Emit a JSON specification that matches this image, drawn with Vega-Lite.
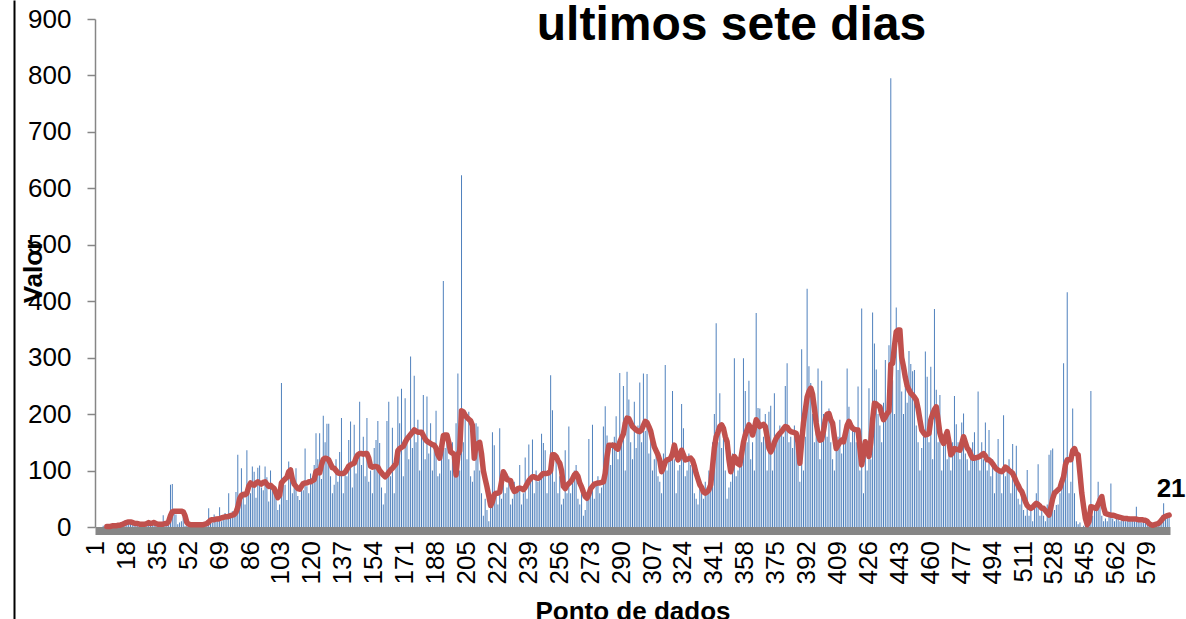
{
"$schema": "https://vega.github.io/schema/vega-lite/v6.json",
"width": 1075, "height": 508,
"autosize": {"type": "none"},
"padding": {"left": 95, "top": 19, "right": 16, "bottom": 92},
"background": "white",
"config": {"view": {"stroke": null}, "font": "Liberation Sans", "axis": {"grid": false}},
"data": {"values": [
{"i":1,"v":0},{"i":2,"v":0},{"i":3,"v":0},{"i":4,"v":0},{"i":5,"v":2},{"i":6,"v":0},{"i":7,"v":1,"m":1},{"i":8,"v":0,"m":1},{"i":9,"v":3,"m":1},{"i":10,"v":1,"m":2},
{"i":11,"v":0,"m":2},{"i":12,"v":2,"m":2},{"i":13,"v":4,"m":3},{"i":14,"v":3,"m":3},{"i":15,"v":5,"m":4},{"i":16,"v":10,"m":5},{"i":17,"v":12,"m":7},{"i":18,"v":8,"m":8},{"i":19,"v":9,"m":9},{"i":20,"v":8,"m":9},
{"i":21,"v":6,"m":8},{"i":22,"v":5,"m":7},{"i":23,"v":4,"m":6},{"i":24,"v":8,"m":6},{"i":25,"v":3,"m":5},{"i":26,"v":2,"m":5},{"i":27,"v":5,"m":5},{"i":28,"v":7,"m":5},{"i":29,"v":6,"m":6},{"i":30,"v":12,"m":8},
{"i":31,"v":5,"m":6},{"i":32,"v":8,"m":7},{"i":33,"v":9,"m":8},{"i":34,"v":4,"m":6},{"i":35,"v":3,"m":5},{"i":36,"v":6,"m":5},{"i":37,"v":7,"m":5},{"i":38,"v":21,"m":5},{"i":39,"v":4,"m":6},{"i":40,"v":5,"m":6},
{"i":41,"v":10,"m":10},{"i":42,"v":75,"m":20},{"i":43,"v":76,"m":27},{"i":44,"v":30,"m":28},{"i":45,"v":22,"m":28},{"i":46,"v":5,"m":28},{"i":47,"v":8,"m":28},{"i":48,"v":10,"m":28},{"i":49,"v":28,"m":27},{"i":50,"v":2,"m":20},
{"i":51,"v":3,"m":8},{"i":52,"v":4,"m":5},{"i":53,"v":2,"m":4},{"i":54,"v":6,"m":4},{"i":55,"v":3,"m":4},{"i":56,"v":5,"m":4},{"i":57,"v":4,"m":4},{"i":58,"v":4,"m":4},{"i":59,"v":6,"m":4},{"i":60,"v":3,"m":4},
{"i":61,"v":8,"m":5},{"i":62,"v":12,"m":6},{"i":63,"v":33,"m":9},{"i":64,"v":10,"m":12},{"i":65,"v":8,"m":13},{"i":66,"v":22,"m":13},{"i":67,"v":15,"m":14},{"i":68,"v":12,"m":14},{"i":69,"v":35,"m":15},{"i":70,"v":10,"m":16},
{"i":71,"v":18,"m":17},{"i":72,"v":25,"m":18},{"i":73,"v":14,"m":18},{"i":74,"v":60,"m":19},{"i":75,"v":20,"m":20},{"i":76,"v":28,"m":21},{"i":77,"v":22,"m":22},{"i":78,"v":62,"m":26},{"i":79,"v":128,"m":35},{"i":80,"v":58,"m":50},
{"i":81,"v":104,"m":56},{"i":82,"v":55,"m":58},{"i":83,"v":40,"m":57},{"i":84,"v":136,"m":60},{"i":85,"v":70,"m":72},{"i":86,"v":60,"m":78},{"i":87,"v":107,"m":75},{"i":88,"v":98,"m":74},{"i":89,"v":52,"m":78},{"i":90,"v":105,"m":80},
{"i":91,"v":109,"m":78},{"i":92,"v":70,"m":76},{"i":93,"v":65,"m":79},{"i":94,"v":107,"m":80},{"i":95,"v":88,"m":76},{"i":96,"v":45,"m":72},{"i":97,"v":100,"m":74},{"i":98,"v":72,"m":71},{"i":99,"v":60,"m":68},{"i":100,"v":50,"m":60},
{"i":101,"v":30,"m":52},{"i":102,"v":40,"m":56},{"i":103,"v":255,"m":78},{"i":104,"v":80,"m":82},{"i":105,"v":75,"m":85},{"i":106,"v":48,"m":88},{"i":107,"v":116,"m":98},{"i":108,"v":95,"m":101},{"i":109,"v":60,"m":85},{"i":110,"v":70,"m":76},
{"i":111,"v":104,"m":72},{"i":112,"v":55,"m":68},{"i":113,"v":48,"m":67},{"i":114,"v":80,"m":72},{"i":115,"v":65,"m":77},{"i":116,"v":139,"m":78},{"i":117,"v":72,"m":78},{"i":118,"v":60,"m":80},{"i":119,"v":95,"m":80},{"i":120,"v":78,"m":82},
{"i":121,"v":110,"m":84},{"i":122,"v":166,"m":98},{"i":123,"v":120,"m":100},{"i":124,"v":166,"m":96},{"i":125,"v":85,"m":110},{"i":126,"v":197,"m":120},{"i":127,"v":150,"m":122},{"i":128,"v":183,"m":121},{"i":129,"v":183,"m":119},{"i":130,"v":90,"m":112},
{"i":131,"v":60,"m":105},{"i":132,"v":75,"m":104},{"i":133,"v":120,"m":100},{"i":134,"v":80,"m":96},{"i":135,"v":133,"m":95},{"i":136,"v":193,"m":95},{"i":137,"v":60,"m":95},{"i":138,"v":100,"m":97},{"i":139,"v":90,"m":102},{"i":140,"v":154,"m":108},
{"i":141,"v":187,"m":110},{"i":142,"v":70,"m":112},{"i":143,"v":181,"m":113},{"i":144,"v":95,"m":122},{"i":145,"v":120,"m":128},{"i":146,"v":222,"m":130},{"i":147,"v":110,"m":130},{"i":148,"v":160,"m":129},{"i":149,"v":90,"m":130},{"i":150,"v":193,"m":130},
{"i":151,"v":80,"m":122},{"i":152,"v":100,"m":108},{"i":153,"v":60,"m":106},{"i":154,"v":140,"m":107},{"i":155,"v":154,"m":107},{"i":156,"v":188,"m":106},{"i":157,"v":149,"m":100},{"i":158,"v":70,"m":96},{"i":159,"v":40,"m":92},{"i":160,"v":60,"m":89},
{"i":161,"v":188,"m":92},{"i":162,"v":222,"m":97},{"i":163,"v":90,"m":101},{"i":164,"v":176,"m":104},{"i":165,"v":60,"m":108},{"i":166,"v":120,"m":112},{"i":167,"v":231,"m":135},{"i":168,"v":184,"m":139},{"i":169,"v":245,"m":141},{"i":170,"v":90,"m":143},
{"i":171,"v":228,"m":150},{"i":172,"v":150,"m":156},{"i":173,"v":120,"m":160},{"i":174,"v":302,"m":164},{"i":175,"v":140,"m":168},{"i":176,"v":268,"m":172},{"i":177,"v":150,"m":170},{"i":178,"v":190,"m":168},{"i":179,"v":100,"m":168},{"i":180,"v":160,"m":168},
{"i":181,"v":234,"m":162},{"i":182,"v":120,"m":156},{"i":183,"v":231,"m":152},{"i":184,"v":130,"m":150},{"i":185,"v":184,"m":148},{"i":186,"v":100,"m":146},{"i":187,"v":140,"m":145},{"i":188,"v":206,"m":140},{"i":189,"v":90,"m":128},{"i":190,"v":95,"m":122},
{"i":191,"v":130,"m":140},{"i":192,"v":436,"m":162},{"i":193,"v":140,"m":163},{"i":194,"v":160,"m":163},{"i":195,"v":120,"m":150},{"i":196,"v":100,"m":133},{"i":197,"v":150,"m":131},{"i":198,"v":120,"m":128},{"i":199,"v":184,"m":92},{"i":200,"v":272,"m":128},
{"i":201,"v":100,"m":135},{"i":202,"v":623,"m":206},{"i":203,"v":150,"m":204},{"i":204,"v":200,"m":198},{"i":205,"v":120,"m":194},{"i":206,"v":204,"m":191},{"i":207,"v":90,"m":188},{"i":208,"v":80,"m":180},{"i":209,"v":100,"m":122},{"i":210,"v":184,"m":145},
{"i":211,"v":178,"m":148},{"i":212,"v":100,"m":150},{"i":213,"v":60,"m":130},{"i":214,"v":20,"m":100},{"i":215,"v":50,"m":85},{"i":216,"v":30,"m":71},{"i":217,"v":10,"m":55},{"i":218,"v":40,"m":38},{"i":219,"v":168,"m":45},{"i":220,"v":145,"m":57},
{"i":221,"v":60,"m":60},{"i":222,"v":40,"m":60},{"i":223,"v":175,"m":62},{"i":224,"v":50,"m":80},{"i":225,"v":98,"m":98},{"i":226,"v":60,"m":92},{"i":227,"v":70,"m":84},{"i":228,"v":90,"m":83},{"i":229,"v":40,"m":82},{"i":230,"v":50,"m":70},
{"i":231,"v":80,"m":63},{"i":232,"v":60,"m":64},{"i":233,"v":70,"m":68},{"i":234,"v":110,"m":69},{"i":235,"v":40,"m":68},{"i":236,"v":60,"m":66},{"i":237,"v":123,"m":70},{"i":238,"v":50,"m":76},{"i":239,"v":146,"m":82},{"i":240,"v":80,"m":86},
{"i":241,"v":155,"m":89},{"i":242,"v":60,"m":89},{"i":243,"v":100,"m":87},{"i":244,"v":80,"m":86},{"i":245,"v":90,"m":88},{"i":246,"v":165,"m":92},{"i":247,"v":149,"m":95},{"i":248,"v":136,"m":95},{"i":249,"v":60,"m":95},{"i":250,"v":100,"m":96},
{"i":251,"v":269,"m":100},{"i":252,"v":207,"m":128},{"i":253,"v":80,"m":128},{"i":254,"v":120,"m":125},{"i":255,"v":60,"m":118},{"i":256,"v":90,"m":113},{"i":257,"v":40,"m":100},{"i":258,"v":50,"m":72},{"i":259,"v":136,"m":68},{"i":260,"v":60,"m":74},
{"i":261,"v":178,"m":77},{"i":262,"v":60,"m":80},{"i":263,"v":90,"m":85},{"i":264,"v":100,"m":92},{"i":265,"v":110,"m":95},{"i":266,"v":50,"m":90},{"i":267,"v":40,"m":78},{"i":268,"v":70,"m":71},{"i":269,"v":20,"m":62},{"i":270,"v":30,"m":54},
{"i":271,"v":60,"m":51},{"i":272,"v":156,"m":58},{"i":273,"v":60,"m":68},{"i":274,"v":181,"m":72},{"i":275,"v":50,"m":76},{"i":276,"v":80,"m":77},{"i":277,"v":90,"m":78},{"i":278,"v":60,"m":78},{"i":279,"v":70,"m":79},{"i":280,"v":178,"m":80},
{"i":281,"v":214,"m":95},{"i":282,"v":162,"m":125},{"i":283,"v":130,"m":145},{"i":284,"v":110,"m":145},{"i":285,"v":150,"m":145},{"i":286,"v":160,"m":145},{"i":287,"v":196,"m":140},{"i":288,"v":120,"m":138},{"i":289,"v":273,"m":150},{"i":290,"v":150,"m":158},
{"i":291,"v":250,"m":165},{"i":292,"v":100,"m":184},{"i":293,"v":275,"m":193},{"i":294,"v":226,"m":192},{"i":295,"v":150,"m":185},{"i":296,"v":120,"m":178},{"i":297,"v":222,"m":175},{"i":298,"v":140,"m":172},{"i":299,"v":180,"m":170},{"i":300,"v":256,"m":169},
{"i":301,"v":150,"m":172},{"i":302,"v":272,"m":180},{"i":303,"v":170,"m":187},{"i":304,"v":271,"m":185},{"i":305,"v":130,"m":178},{"i":306,"v":160,"m":170},{"i":307,"v":100,"m":155},{"i":308,"v":120,"m":142},{"i":309,"v":140,"m":135},{"i":310,"v":90,"m":128},
{"i":311,"v":80,"m":118},{"i":312,"v":60,"m":98},{"i":313,"v":130,"m":105},{"i":314,"v":287,"m":115},{"i":315,"v":100,"m":119},{"i":316,"v":120,"m":120},{"i":317,"v":130,"m":122},{"i":318,"v":241,"m":130},{"i":319,"v":120,"m":145},{"i":320,"v":60,"m":130},
{"i":321,"v":100,"m":119},{"i":322,"v":110,"m":125},{"i":323,"v":218,"m":136},{"i":324,"v":175,"m":128},{"i":325,"v":90,"m":119},{"i":326,"v":100,"m":120},{"i":327,"v":130,"m":121},{"i":328,"v":110,"m":122},{"i":329,"v":120,"m":118},{"i":330,"v":60,"m":108},
{"i":331,"v":50,"m":95},{"i":332,"v":40,"m":85},{"i":333,"v":80,"m":75},{"i":334,"v":60,"m":70},{"i":335,"v":50,"m":62},{"i":336,"v":80,"m":60},{"i":337,"v":70,"m":62},{"i":338,"v":100,"m":66},{"i":339,"v":90,"m":75},{"i":340,"v":150,"m":107},
{"i":341,"v":200,"m":140},{"i":342,"v":361,"m":160},{"i":343,"v":150,"m":168},{"i":344,"v":237,"m":178},{"i":345,"v":140,"m":181},{"i":346,"v":160,"m":175},{"i":347,"v":100,"m":160},{"i":348,"v":50,"m":151},{"i":349,"v":70,"m":120},{"i":350,"v":80,"m":98},
{"i":351,"v":130,"m":110},{"i":352,"v":299,"m":125},{"i":353,"v":90,"m":120},{"i":354,"v":100,"m":112},{"i":355,"v":120,"m":110},{"i":356,"v":140,"m":130},{"i":357,"v":299,"m":150},{"i":358,"v":241,"m":163},{"i":359,"v":150,"m":172},{"i":360,"v":259,"m":181},
{"i":361,"v":120,"m":175},{"i":362,"v":150,"m":163},{"i":363,"v":100,"m":175},{"i":364,"v":379,"m":190},{"i":365,"v":211,"m":185},{"i":366,"v":210,"m":178},{"i":367,"v":150,"m":180},{"i":368,"v":160,"m":182},{"i":369,"v":200,"m":178},{"i":370,"v":100,"m":160},
{"i":371,"v":204,"m":140},{"i":372,"v":215,"m":133},{"i":373,"v":100,"m":140},{"i":374,"v":237,"m":150},{"i":375,"v":150,"m":157},{"i":376,"v":160,"m":162},{"i":377,"v":180,"m":166},{"i":378,"v":170,"m":169},{"i":379,"v":160,"m":174},{"i":380,"v":250,"m":178},
{"i":381,"v":290,"m":177},{"i":382,"v":150,"m":172},{"i":383,"v":160,"m":169},{"i":384,"v":140,"m":168},{"i":385,"v":180,"m":167},{"i":386,"v":150,"m":166},{"i":387,"v":120,"m":150},{"i":388,"v":80,"m":113},{"i":389,"v":315,"m":150},{"i":390,"v":100,"m":185},
{"i":391,"v":160,"m":207},{"i":392,"v":422,"m":230},{"i":393,"v":285,"m":240},{"i":394,"v":255,"m":246},{"i":395,"v":200,"m":235},{"i":396,"v":150,"m":210},{"i":397,"v":180,"m":184},{"i":398,"v":281,"m":165},{"i":399,"v":120,"m":154},{"i":400,"v":259,"m":155},
{"i":401,"v":200,"m":170},{"i":402,"v":180,"m":190},{"i":403,"v":160,"m":200},{"i":404,"v":210,"m":201},{"i":405,"v":150,"m":190},{"i":406,"v":120,"m":184},{"i":407,"v":100,"m":160},{"i":408,"v":140,"m":139},{"i":409,"v":160,"m":145},{"i":410,"v":190,"m":150},
{"i":411,"v":130,"m":154},{"i":412,"v":160,"m":151},{"i":413,"v":170,"m":165},{"i":414,"v":281,"m":180},{"i":415,"v":213,"m":187},{"i":416,"v":150,"m":180},{"i":417,"v":180,"m":175},{"i":418,"v":170,"m":173},{"i":419,"v":150,"m":172},{"i":420,"v":249,"m":172},
{"i":421,"v":100,"m":140},{"i":422,"v":387,"m":110},{"i":423,"v":60,"m":130},{"i":424,"v":150,"m":151},{"i":425,"v":100,"m":140},{"i":426,"v":246,"m":125},{"i":427,"v":120,"m":150},{"i":428,"v":380,"m":190},{"i":429,"v":325,"m":219},{"i":430,"v":279,"m":218},
{"i":431,"v":200,"m":215},{"i":432,"v":180,"m":213},{"i":433,"v":150,"m":200},{"i":434,"v":220,"m":190},{"i":435,"v":296,"m":195},{"i":436,"v":200,"m":201},{"i":437,"v":322,"m":205},{"i":438,"v":795,"m":288},{"i":439,"v":260,"m":290},{"i":440,"v":200,"m":320},
{"i":441,"v":389,"m":346},{"i":442,"v":278,"m":349},{"i":443,"v":300,"m":349},{"i":444,"v":240,"m":300},{"i":445,"v":200,"m":284},{"i":446,"v":250,"m":265},{"i":447,"v":220,"m":250},{"i":448,"v":312,"m":243},{"i":449,"v":289,"m":237},{"i":450,"v":276,"m":234},
{"i":451,"v":278,"m":230},{"i":452,"v":180,"m":225},{"i":453,"v":150,"m":210},{"i":454,"v":100,"m":190},{"i":455,"v":140,"m":172},{"i":456,"v":160,"m":167},{"i":457,"v":311,"m":163},{"i":458,"v":266,"m":164},{"i":459,"v":150,"m":166},{"i":460,"v":284,"m":190},
{"i":461,"v":120,"m":200},{"i":462,"v":386,"m":208},{"i":463,"v":243,"m":213},{"i":464,"v":150,"m":190},{"i":465,"v":234,"m":166},{"i":466,"v":100,"m":155},{"i":467,"v":160,"m":148},{"i":468,"v":150,"m":160},{"i":469,"v":120,"m":169},{"i":470,"v":140,"m":150},
{"i":471,"v":100,"m":128},{"i":472,"v":150,"m":132},{"i":473,"v":232,"m":139},{"i":474,"v":182,"m":138},{"i":475,"v":150,"m":137},{"i":476,"v":120,"m":136},{"i":477,"v":185,"m":148},{"i":478,"v":201,"m":160},{"i":479,"v":130,"m":150},{"i":480,"v":120,"m":140},
{"i":481,"v":100,"m":136},{"i":482,"v":130,"m":128},{"i":483,"v":150,"m":122},{"i":484,"v":168,"m":122},{"i":485,"v":120,"m":123},{"i":486,"v":240,"m":124},{"i":487,"v":100,"m":125},{"i":488,"v":150,"m":128},{"i":489,"v":120,"m":130},{"i":490,"v":185,"m":126},
{"i":491,"v":100,"m":119},{"i":492,"v":172,"m":119},{"i":493,"v":90,"m":116},{"i":494,"v":120,"m":112},{"i":495,"v":60,"m":107},{"i":496,"v":110,"m":103},{"i":497,"v":156,"m":101},{"i":498,"v":100,"m":99},{"i":499,"v":60,"m":98},{"i":500,"v":198,"m":101},
{"i":501,"v":90,"m":106},{"i":502,"v":100,"m":104},{"i":503,"v":120,"m":100},{"i":504,"v":60,"m":98},{"i":505,"v":147,"m":95},{"i":506,"v":80,"m":88},{"i":507,"v":144,"m":80},{"i":508,"v":50,"m":74},{"i":509,"v":40,"m":67},{"i":510,"v":60,"m":63},
{"i":511,"v":30,"m":54},{"i":512,"v":20,"m":45},{"i":513,"v":101,"m":38},{"i":514,"v":20,"m":35},{"i":515,"v":30,"m":33},{"i":516,"v":10,"m":35},{"i":517,"v":40,"m":39},{"i":518,"v":60,"m":42},{"i":519,"v":111,"m":40},{"i":520,"v":20,"m":37},
{"i":521,"v":30,"m":33},{"i":522,"v":20,"m":33},{"i":523,"v":10,"m":29},{"i":524,"v":40,"m":25},{"i":525,"v":128,"m":21},{"i":526,"v":136,"m":35},{"i":527,"v":139,"m":50},{"i":528,"v":30,"m":60},{"i":529,"v":39,"m":63},{"i":530,"v":40,"m":66},
{"i":531,"v":60,"m":69},{"i":532,"v":90,"m":80},{"i":533,"v":290,"m":89},{"i":534,"v":120,"m":110},{"i":535,"v":416,"m":119},{"i":536,"v":60,"m":119},{"i":537,"v":80,"m":119},{"i":538,"v":210,"m":135},{"i":539,"v":60,"m":139},{"i":540,"v":10,"m":130},
{"i":541,"v":5,"m":128},{"i":542,"v":8,"m":95},{"i":543,"v":0,"m":60},{"i":544,"v":2,"m":36},{"i":545,"v":5,"m":15},{"i":546,"v":3,"m":4},{"i":547,"v":30,"m":10},{"i":548,"v":241,"m":36},{"i":549,"v":20,"m":35},{"i":550,"v":30,"m":34},
{"i":551,"v":40,"m":33},{"i":552,"v":80,"m":40},{"i":553,"v":50,"m":48},{"i":554,"v":20,"m":54},{"i":555,"v":10,"m":35},{"i":556,"v":15,"m":24},{"i":557,"v":10,"m":23},{"i":558,"v":20,"m":22},{"i":559,"v":77,"m":21},{"i":560,"v":15,"m":21},
{"i":561,"v":10,"m":20},{"i":562,"v":15,"m":19},{"i":563,"v":20,"m":18},{"i":564,"v":10,"m":17},{"i":565,"v":15,"m":16},{"i":566,"v":20,"m":15},{"i":567,"v":10,"m":15},{"i":568,"v":12,"m":15},{"i":569,"v":15,"m":14},{"i":570,"v":10,"m":14},
{"i":571,"v":15,"m":14},{"i":572,"v":10,"m":14},{"i":573,"v":36,"m":14},{"i":574,"v":10,"m":13},{"i":575,"v":12,"m":13},{"i":576,"v":8,"m":13},{"i":577,"v":15,"m":12},{"i":578,"v":10,"m":12},{"i":579,"v":5,"m":10},{"i":580,"v":2,"m":6},
{"i":581,"v":0,"m":4},{"i":582,"v":2,"m":3},{"i":583,"v":5,"m":4},{"i":584,"v":8,"m":5},{"i":585,"v":6,"m":6},{"i":586,"v":10,"m":9},{"i":587,"v":20,"m":13},{"i":588,"v":42,"m":17},{"i":589,"v":15,"m":19},{"i":590,"v":20,"m":20},
{"i":591,"v":25,"m":21}
]},
"layer": [
{"mark": {"type": "bar", "color": "#4F81BD"},
 "encoding": {
  "x": {"field": "i", "type": "ordinal", "scale": {"paddingInner": 0.45, "paddingOuter": 0.225},
   "axis": {"values": [1,18,35,52,69,86,103,120,137,154,171,188,205,222,239,256,273,290,307,324,341,358,375,392,409,426,443,460,477,494,511,528,545,562,579],
    "labelAngle": -90, "labelFontSize": 26, "labelColor": "#000000", "labelAlign": "right", "labelBaseline": "middle", "labelPadding": 10, "labelOverlap": false, "labelFlush": false,
    "ticks": false, "domainColor": "#868686", "domainWidth": 8, "offset": 3.5,
    "title": "Ponto de dados", "titleFontSize": 26, "titleFontWeight": "bold", "titleColor": "#000000", "titleBaseline": "alphabetic", "titleY": 89}},
  "y": {"field": "v", "type": "quantitative", "scale": {"domain": [0, 900], "nice": false},
   "axis": {"values": [0,100,200,300,400,500,600,700,800,900], "labelFontSize": 26, "labelColor": "#000000", "labelPadding": 16, "labelBaseline": "middle",
    "tickSize": 8, "tickColor": "#868686", "tickWidth": 1.5, "domainColor": "#868686", "domainWidth": 1.5,
    "title": "Valor", "titleFontSize": 26, "titleFontWeight": "bold", "titleColor": "#000000", "titleAngle": -90, "titleBaseline": "alphabetic", "titleAlign": "center", "titleX": -54, "titleY": 252}}
 }},
{"mark": {"type": "line", "color": "#C0504D", "strokeWidth": 5.5, "strokeCap": "round", "strokeJoin": "round"},
 "encoding": {
  "x": {"field": "i", "type": "ordinal"},
  "y": {"field": "m", "type": "quantitative", "scale": {"domain": [0, 900], "nice": false}, "axis": null}
 }},
{"transform": [{"filter": "datum.i == 591"}],
 "mark": {"type": "text", "fontSize": 26, "fontWeight": "bold", "baseline": "alphabetic", "align": "center", "dy": -18, "dx": 2, "color": "#000000"},
 "encoding": {
  "x": {"field": "i", "type": "ordinal"},
  "y": {"field": "m", "type": "quantitative", "scale": {"domain": [-163, 933.7], "range": [600, -19], "nice": false, "zero": false},
   "axis": {"orient": "left", "offset": 81, "domainColor": "#000000", "domainWidth": 2, "ticks": false, "labels": false, "grid": false,
    "title": "ultimos sete dias", "titleFontSize": 48, "titleFontWeight": "bold", "titleColor": "#000000", "titleAngle": 0, "titleAlign": "center", "titleBaseline": "alphabetic", "titleX": 717, "titleY": 20}},
  "text": {"field": "m", "type": "quantitative"}
 }}
],
"resolve": {"scale": {"y": "independent"}, "axis": {"y": "independent"}}
}
